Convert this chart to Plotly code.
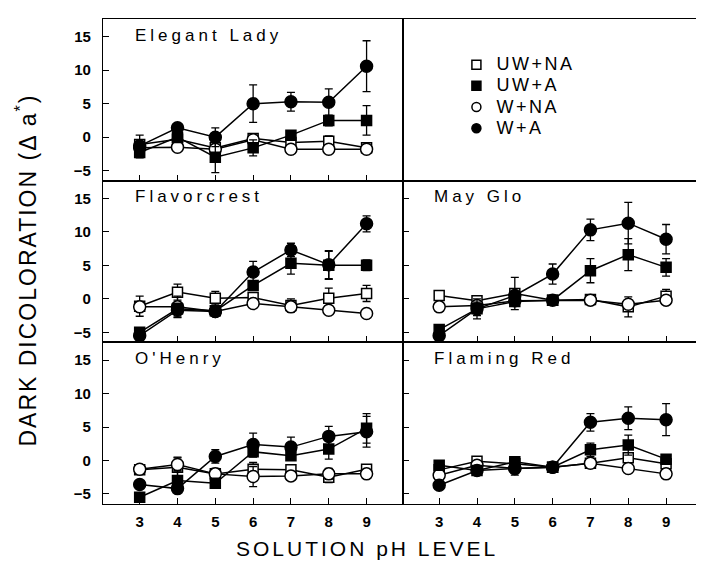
import plotly.graph_objects as go

ph = [3, 4, 5, 6, 7, 8, 9]
treatments = ["UW+NA", "UW+A", "W+NA", "W+A"]
y_ticks = [-5, 0, 5, 10, 15]
x_ticks = [3, 4, 5, 6, 7, 8, 9]

# ---- Elegant Lady ----
el_uw_na = [-1.1, -0.3, -1.6, -0.2, -0.8, -0.6, -1.6]
el_uw_na_err = [0.6, 0.5, 0.6, 0.5, 0.5, 0.8, 0.5]
el_uw_a = [-2.3, 0.0, -3.0, -1.6, 0.3, 2.5, 2.5]
el_uw_a_err = [0.8, 0.8, 2.3, 1.2, 0.6, 0.8, 2.2]
el_w_na = [-1.6, -1.5, -1.8, -0.4, -1.8, -1.8, -1.8]
el_w_na_err = [0.4, 0.4, 0.5, 0.5, 0.4, 0.4, 0.4]
el_w_a = [-1.3, 1.4, 0.0, 5.0, 5.3, 5.2, 10.6]
el_w_a_err = [1.6, 0.5, 1.4, 2.8, 1.4, 2.0, 3.8]

# ---- Flavorcrest ----
fc_uw_na = [-1.1, 1.0, 0.1, 0.2, -1.0, 0.1, 0.8]
fc_uw_na_err = [1.5, 1.2, 1.0, 0.5, 1.0, 1.5, 1.2]
fc_uw_a = [-5.0, -1.5, -1.8, 2.0, 5.3, 5.0, 5.0]
fc_uw_a_err = [0.5, 0.8, 0.5, 0.5, 1.6, 2.1, 0.8]
fc_w_na = [-1.2, -1.2, -1.9, -0.7, -1.2, -1.7, -2.2]
fc_w_na_err = [0.5, 1.6, 0.5, 0.5, 0.5, 0.5, 0.3]
fc_w_a = [-5.5, -1.7, -1.9, 4.0, 7.3, 5.1, 11.2]
fc_w_a_err = [0.3, 1.0, 0.5, 1.6, 1.0, 2.1, 1.2]

# ---- May Glo ----
mg_uw_na = [0.5, -0.3, 0.8, -0.2, -0.1, -1.2, 0.4]
mg_uw_na_err = [0.5, 0.4, 2.4, 0.4, 0.4, 1.5, 1.0]
mg_uw_a = [-4.6, -1.5, -0.4, -0.2, 4.2, 6.6, 4.7]
mg_uw_a_err = [0.5, 1.5, 0.5, 0.5, 1.8, 2.4, 1.3]
mg_w_na = [-1.2, -1.0, -0.3, -0.2, -0.2, -0.8, -0.2]
mg_w_na_err = [0.4, 0.4, 0.4, 0.3, 0.3, 0.5, 0.4]
mg_w_a = [-5.5, -1.5, 0.5, 3.7, 10.3, 11.3, 8.9]
mg_w_a_err = [0.3, 1.0, 0.5, 1.5, 1.6, 3.1, 2.2]

# ---- O'Henry ----
oh_uw_na = [-1.4, -1.0, -2.0, -1.3, -1.4, -2.5, -1.3]
oh_uw_na_err = [0.3, 1.5, 0.8, 1.0, 0.3, 0.8, 0.3]
oh_uw_a = [-5.5, -3.0, -3.4, 1.3, 0.7, 1.7, 4.8]
oh_uw_a_err = [0.3, 1.5, 0.5, 0.8, 0.5, 1.5, 2.2]
oh_w_na = [-1.3, -0.6, -2.0, -2.4, -2.3, -2.0, -2.0]
oh_w_na_err = [0.3, 1.0, 0.5, 1.5, 0.5, 0.8, 0.3]
oh_w_a = [-3.6, -4.2, 0.6, 2.4, 2.0, 3.6, 4.3]
oh_w_a_err = [0.3, 0.5, 1.0, 1.7, 1.5, 1.5, 2.3]

# ---- Flaming Red ----
fr_uw_na = [-1.4, -0.1, -0.5, -1.0, -0.4, 0.4, -0.5]
fr_uw_na_err = [0.4, 0.4, 0.4, 0.4, 0.4, 0.5, 0.4]
fr_uw_a = [-0.7, -1.5, -0.2, -1.0, 1.6, 2.3, 0.2]
fr_uw_a_err = [0.5, 0.5, 0.5, 0.5, 1.0, 1.5, 0.5]
fr_w_na = [-2.2, -0.7, -1.2, -1.0, -0.4, -1.2, -2.0]
fr_w_na_err = [0.3, 0.4, 0.4, 0.3, 0.4, 0.4, 0.3]
fr_w_a = [-3.7, -1.5, -1.2, -1.0, 5.7, 6.3, 6.1]
fr_w_a_err = [0.3, 0.5, 1.0, 0.5, 1.3, 1.7, 2.4]

panels = [
    ("Elegant Lady", 1, [el_uw_na, el_uw_a, el_w_na, el_w_a], [el_uw_na_err, el_uw_a_err, el_w_na_err, el_w_a_err]),
    ("Flavorcrest", 3, [fc_uw_na, fc_uw_a, fc_w_na, fc_w_a], [fc_uw_na_err, fc_uw_a_err, fc_w_na_err, fc_w_a_err]),
    ("May Glo", 4, [mg_uw_na, mg_uw_a, mg_w_na, mg_w_a], [mg_uw_na_err, mg_uw_a_err, mg_w_na_err, mg_w_a_err]),
    ("O'Henry", 5, [oh_uw_na, oh_uw_a, oh_w_na, oh_w_a], [oh_uw_na_err, oh_uw_a_err, oh_w_na_err, oh_w_a_err]),
    ("Flaming Red", 6, [fr_uw_na, fr_uw_a, fr_w_na, fr_w_a], [fr_uw_na_err, fr_uw_a_err, fr_w_na_err, fr_w_a_err]),
]

styles = {
    "UW+NA": dict(symbol="square", color="white", size=10),
    "UW+A": dict(symbol="square", color="black", size=10),
    "W+NA": dict(symbol="circle", color="white", size=12),
    "W+A": dict(symbol="circle", color="black", size=12),
}
draw_order = [0, 2, 1, 3]

fig = go.Figure()

for name, idx, vals, errs in panels:
    xa = "x" if idx == 1 else f"x{idx}"
    ya = "y" if idx == 1 else f"y{idx}"
    for k in draw_order:
        st = styles[treatments[k]]
        fig.add_trace(go.Scatter(
            x=ph, y=vals[k], xaxis=xa, yaxis=ya, mode="lines+markers",
            line=dict(color="black", width=1.5),
            marker=dict(symbol=st["symbol"], color=st["color"], size=st["size"],
                        line=dict(color="black", width=1.5)),
            error_y=dict(type="data", array=errs[k], color="black", thickness=1.3, width=4),
            showlegend=False, hoverinfo="skip",
        ))

# legend-only traces placed in the legend panel
for t in treatments:
    st = styles[t]
    fig.add_trace(go.Scatter(
        x=[None], y=[None], xaxis="x2", yaxis="y2", mode="markers",
        marker=dict(symbol=st["symbol"], color=st["color"], size=9,
                    line=dict(color="black", width=1.5)),
        name=f"<span style='font-size:18px;letter-spacing:2.5px'>{t}</span>", showlegend=True,
    ))

cols = {1: [0, 0.5], 2: [0.5, 1.0]}
rows = {1: [2 / 3, 1.0], 2: [1 / 3, 2 / 3], 3: [0.0, 1 / 3]}
layout_pos = {1: (1, 1), 2: (1, 2), 3: (2, 1), 4: (2, 2), 5: (3, 1), 6: (3, 2)}

tickfont = dict(family="Liberation Sans, Arial", size=15, color="black", weight="bold")
axes = {}
for idx, (r, c) in layout_pos.items():
    xk = "xaxis" if idx == 1 else f"xaxis{idx}"
    yk = "yaxis" if idx == 1 else f"yaxis{idx}"
    legend_panel = idx == 2
    axes[xk] = dict(
        domain=cols[c], anchor="y" if idx == 1 else f"y{idx}",
        range=[2.03, 9.95], tickvals=[] if legend_panel else x_ticks,
        showticklabels=(r == 3), ticks="" if legend_panel else "inside",
        ticklen=6, tickwidth=1.3, tickcolor="black",
        showline=True, mirror=True, linecolor="black", linewidth=1.2,
        showgrid=False, zeroline=False, tickfont=tickfont, ticklabelstandoff=4,
    )
    axes[yk] = dict(
        domain=rows[r], anchor="x" if idx == 1 else f"x{idx}",
        range=[-6.5, 17.65], tickvals=[] if legend_panel else y_ticks,
        showticklabels=(c == 1), ticks="" if legend_panel else "inside",
        ticklen=6, tickwidth=1.3, tickcolor="black",
        showline=True, mirror=True, linecolor="black", linewidth=1.2,
        showgrid=False, zeroline=False, tickfont=tickfont, ticklabelstandoff=8,
    )

annotations = []
label_font = dict(family="Liberation Sans, Arial", size=17, color="black")
for name, idx, vals, errs in panels:
    xa = "x" if idx == 1 else f"x{idx}"
    ya = "y" if idx == 1 else f"y{idx}"
    annotations.append(dict(
        text=f"<span style='letter-spacing:4px'>{name}</span>",
        xref=f"{xa} domain", yref=f"{ya} domain", x=0.10, y=0.90,
        xanchor="left", yanchor="middle", showarrow=False, font=label_font,
    ))

annotations.append(dict(
    text="<span style='letter-spacing:3px'>SOLUTION pH LEVEL</span>",
    xref="paper", yref="paper", x=0.44, y=-0.091, xanchor="center", yanchor="middle",
    showarrow=False, font=dict(family="Liberation Sans, Arial", size=21, color="black"),
))
annotations.append(dict(
    text="<span style='letter-spacing:2px'>DARK DICOLORATION (Δ a<sup>*</sup>)</span>",
    xref="paper", yref="paper", x=-0.128, y=0.482, xanchor="center", yanchor="middle",
    showarrow=False, font=dict(family="Liberation Sans, Arial", size=23, color="black"),
    textangle=-90,
))

fig.update_layout(
    width=704, height=561,
    margin=dict(l=95, r=10, t=11, b=65),
    paper_bgcolor="white", plot_bgcolor="white",
    showlegend=True,
    legend=dict(x=0.59, y=0.938, xanchor="left", yanchor="top",
                font=dict(family="Liberation Sans, Arial", size=14, color="black"),
                bgcolor="rgba(0,0,0,0)", itemsizing="trace", tracegroupgap=0),
    annotations=annotations,
    **axes,
)

fig.write_html("out.html")
